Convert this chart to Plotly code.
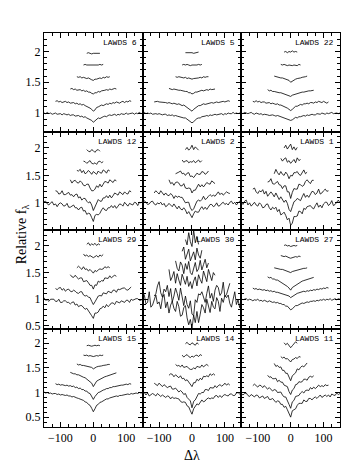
import plotly.graph_objects as go
from plotly.subplots import make_subplots

# wavelength offset grid (Angstrom), shared by all composite spectra
DLAM = [-150, -145, -140, -135, -130, -125, -120, -115, -110, -105, -100, -95, -90, -85, -80,
        -75, -70, -65, -60, -55, -50, -45, -40, -35, -30, -25, -20, -15, -10, -5, 0,
        5, 10, 15, 20, 25, 30, 35, 40, 45, 50, 55, 60, 65, 70, 75, 80, 85, 90, 95, 100,
        105, 110, 115, 120, 125, 130, 135, 140, 145, 150]

# vertical offsets of the stacked spectra (bottom -> top)
OFFSETS = [0.0, 0.2, 0.4, 0.6, 0.8, 1.0]

PANEL_NAMES = ["LAWDS 6", "LAWDS 5", "LAWDS 22",
               "LAWDS 12", "LAWDS 2", "LAWDS 1",
               "LAWDS 29", "LAWDS 30", "LAWDS 27",
               "LAWDS 15", "LAWDS 14", "LAWDS 11"]

ROW_YRANGE = [(0.7, 2.3), (0.505, 2.3), (0.45, 2.3), (0.3, 2.3)]

LAWDS_6 = [
    [1.00, 0.99, 1.01, 0.99, 1.00, 0.98, 0.99, 1.00, 0.98, 0.99, 0.99, 0.97, 0.99, 0.98, 0.97, 0.98, 0.96, 0.97, 0.97, 0.95, 0.96, 0.96, 0.94, 0.95, 0.93, 0.94, 0.92, 0.91, 0.90, 0.88, 0.85,
     0.87, 0.90, 0.92, 0.91, 0.93, 0.94, 0.95, 0.94, 0.96, 0.97, 0.96, 0.97, 0.98, 0.96, 0.98, 0.97, 0.99, 0.98, 0.98, 1.00, 0.98, 0.99, 0.99, 1.00, 0.98, 1.00, 0.99, 1.01, 0.99, 1.00],
    [0.99, 1.00, 0.98, 0.99, 0.97, 0.98, 0.99, 0.97, 0.98, 0.96, 0.97, 0.97, 0.95, 0.96, 0.94, 0.95, 0.93, 0.94, 0.92, 0.91, 0.90, 0.88, 0.86, 0.83,
     0.85, 0.89, 0.90, 0.91, 0.93, 0.92, 0.94, 0.95, 0.94, 0.96, 0.95, 0.97, 0.96, 0.98, 0.97, 0.96, 0.98, 0.99, 0.97, 0.99, 0.98, 1.00, 0.99],
    [0.99, 1.00, 0.98, 0.99, 0.97, 0.98, 0.98, 0.96, 0.97, 0.95, 0.96, 0.94, 0.94, 0.92, 0.91,
     0.93, 0.93, 0.95, 0.94, 0.96, 0.96, 0.97, 0.98, 0.97, 0.99, 0.98, 0.99, 1.00, 0.99],
    [0.99, 0.98, 0.99, 0.97, 0.98, 0.97, 0.96, 0.97, 0.95, 0.94, 0.93, 0.95, 0.95, 0.96, 0.97, 0.96, 0.98, 0.97, 0.99, 0.98, 0.99],
    [0.98, 0.99, 0.98, 0.98, 0.97, 0.98, 0.97, 0.97, 0.98, 0.98, 0.99, 0.98, 0.99],
    [0.97, 0.98, 0.97, 0.96, 0.97, 0.97, 0.98, 0.97, 0.97],
]

LAWDS_5 = [
    [1.00, 1.01, 0.99, 1.00, 0.99, 1.00, 0.98, 0.99, 0.99, 0.98, 0.99, 0.98, 0.97, 0.98, 0.98, 0.96, 0.97, 0.96, 0.97, 0.95, 0.96, 0.95, 0.94, 0.94, 0.93, 0.92, 0.92, 0.90, 0.89, 0.87, 0.84,
     0.86, 0.89, 0.91, 0.92, 0.92, 0.94, 0.94, 0.95, 0.96, 0.95, 0.97, 0.96, 0.97, 0.98, 0.97, 0.98, 0.98, 0.99, 0.97, 0.99, 0.98, 1.00, 0.99, 0.99, 1.01, 0.99, 1.00, 0.99, 1.00, 1.01],
    [0.98, 0.99, 0.99, 0.98, 0.98, 0.97, 0.98, 0.97, 0.96, 0.97, 0.96, 0.95, 0.96, 0.95, 0.94, 0.95, 0.93, 0.92, 0.93, 0.91, 0.89, 0.88, 0.86, 0.83,
     0.86, 0.88, 0.90, 0.92, 0.92, 0.93, 0.95, 0.94, 0.95, 0.96, 0.96, 0.97, 0.96, 0.97, 0.98, 0.97, 0.98, 0.98, 0.99, 0.98, 0.99, 1.00, 0.99],
    [1.00, 0.99, 0.98, 0.99, 0.98, 0.97, 0.97, 0.97, 0.96, 0.96, 0.95, 0.95, 0.93, 0.93, 0.91,
     0.92, 0.94, 0.94, 0.95, 0.95, 0.97, 0.96, 0.97, 0.98, 0.97, 0.99, 0.98, 0.99, 0.99],
    [0.99, 0.98, 0.99, 0.98, 0.98, 0.97, 0.98, 0.96, 0.97, 0.96, 0.95, 0.96, 0.96, 0.97, 0.97, 0.98, 0.97, 0.99, 0.98, 0.99, 0.99],
    [0.98, 0.99, 0.98, 0.99, 0.98, 0.97, 0.98, 0.98, 0.97, 0.98, 0.99, 0.98, 0.99],
    [0.98, 0.98, 0.99, 0.98, 0.98, 0.97, 0.98, 0.98, 0.99],
]

LAWDS_22 = [
    [1.00, 0.99, 1.01, 1.00, 0.99, 1.00, 1.01, 0.99, 0.98, 1.00, 0.99, 0.98, 0.99, 0.97, 0.98, 0.98, 0.97, 0.96, 0.97, 0.97, 0.96, 0.95, 0.96, 0.95, 0.94, 0.94, 0.93, 0.92, 0.91, 0.90, 0.88,
     0.89, 0.91, 0.93, 0.92, 0.94, 0.94, 0.95, 0.96, 0.95, 0.97, 0.96, 0.97, 0.98, 0.97, 0.97, 0.99, 0.98, 0.98, 1.00, 0.99, 0.98, 1.00, 0.99, 1.00, 1.01, 0.99, 1.00, 1.00, 0.99, 1.00],
    [0.99, 0.98, 1.00, 0.98, 0.99, 0.97, 0.98, 0.98, 0.96, 0.97, 0.97, 0.95, 0.96, 0.95, 0.94, 0.95, 0.93, 0.93, 0.92, 0.91, 0.90, 0.88, 0.86, 0.84,
     0.86, 0.88, 0.91, 0.91, 0.92, 0.94, 0.93, 0.95, 0.95, 0.96, 0.95, 0.97, 0.97, 0.96, 0.98, 0.97, 0.99, 0.98, 0.97, 0.99, 0.98, 0.96, 0.98],
    [0.98, 0.96, 0.97, 0.95, 0.95, 0.94, 0.94, 0.93, 0.93, 0.92, 0.92, 0.91, 0.90, 0.89, 0.87,
     0.89, 0.90, 0.91, 0.92, 0.92, 0.93, 0.94, 0.94, 0.95, 0.95, 0.96, 0.96, 0.97, 0.97],
    [1.00, 0.99, 0.99, 0.98, 0.97, 0.97, 0.96, 0.95, 0.94, 0.93, 0.90, 0.92, 0.94, 0.95, 0.96, 0.96, 0.97, 0.98, 0.98, 0.99, 1.00],
    [0.99, 0.98, 0.99, 0.98, 0.97, 0.98, 0.97, 0.97, 0.98, 0.98, 0.97, 0.99, 0.98],
    [0.99, 1.00, 0.98, 1.00, 0.99, 1.01, 0.99, 1.00, 0.99],
]

LAWDS_12 = [
    [1.02, 1.03, 0.98, 0.96, 1.00, 1.02, 0.96, 0.98, 0.93, 0.98, 1.00, 0.98, 0.94, 0.95, 0.99, 0.92, 0.92, 0.94, 0.96, 0.91, 0.91, 0.87, 0.91, 0.92, 0.85, 0.86, 0.79, 0.81, 0.80, 0.73, 0.66,
     0.77, 0.79, 0.78, 0.81, 0.87, 0.91, 0.87, 0.86, 0.91, 0.91, 0.95, 0.91, 0.95, 0.90, 0.94, 0.98, 0.97, 0.94, 1.01, 0.97, 0.94, 0.99, 0.97, 0.96, 1.01, 1.00, 0.95, 1.01, 1.00, 1.03],
    [1.02, 1.01, 0.96, 0.97, 1.02, 0.95, 0.95, 0.97, 0.99, 0.94, 0.95, 0.91, 0.95, 0.96, 0.89, 0.91, 0.85, 0.88, 0.88, 0.83, 0.80, 0.82, 0.76, 0.66,
     0.73, 0.81, 0.86, 0.83, 0.83, 0.89, 0.89, 0.93, 0.89, 0.94, 0.89, 0.93, 0.98, 0.96, 0.94, 1.00, 0.97, 0.95, 1.00, 0.97, 0.96, 1.02, 1.00],
    [1.02, 0.96, 1.00, 1.01, 0.97, 0.96, 1.00, 0.97, 0.92, 0.91, 0.94, 0.94, 0.87, 0.82, 0.82,
     0.85, 0.91, 0.88, 0.94, 0.89, 0.94, 0.99, 0.98, 0.96, 1.02, 0.99, 0.97, 1.02, 1.00],
    [0.99, 0.98, 1.01, 0.95, 0.99, 0.93, 0.95, 0.99, 0.96, 0.92, 0.97, 0.94, 0.92, 0.98, 0.95, 0.94, 1.00, 0.98, 0.94, 1.00, 0.98],
    [0.96, 0.95, 0.92, 0.94, 0.97, 0.92, 0.91, 0.93, 0.90, 0.95, 0.96, 0.93, 0.95],
    [0.97, 0.94, 0.93, 0.97, 0.95, 0.92, 0.96, 0.97, 0.94],
]

LAWDS_2 = [
    [0.99, 1.04, 1.01, 0.97, 0.98, 1.02, 1.03, 0.98, 0.96, 1.00, 0.98, 1.01, 0.96, 0.99, 0.93, 0.95, 0.99, 0.96, 0.93, 0.98, 0.93, 0.89, 0.94, 0.89, 0.87, 0.91, 0.87, 0.80, 0.84, 0.78, 0.73,
     0.80, 0.85, 0.83, 0.83, 0.89, 0.93, 0.88, 0.92, 0.88, 0.94, 0.97, 0.97, 0.93, 0.95, 1.00, 0.94, 0.95, 0.99, 1.01, 0.97, 0.99, 0.96, 1.01, 1.03, 0.98, 1.01, 0.96, 1.00, 1.03, 1.00],
    [0.98, 1.02, 0.99, 0.96, 1.02, 0.97, 0.94, 0.98, 0.94, 0.93, 0.97, 0.94, 0.88, 0.93, 0.90, 0.92, 0.90, 0.90, 0.84, 0.80, 0.81, 0.81, 0.71, 0.66,
     0.69, 0.78, 0.83, 0.85, 0.83, 0.86, 0.92, 0.86, 0.88, 0.92, 0.95, 0.92, 0.94, 0.92, 0.97, 1.00, 0.95, 0.98, 0.94, 0.98, 1.00, 0.98, 0.97],
    [1.02, 0.95, 0.97, 0.92, 0.97, 0.98, 0.96, 0.91, 0.91, 0.95, 0.87, 0.86, 0.87, 0.86, 0.78,
     0.83, 0.83, 0.90, 0.94, 0.89, 0.93, 0.89, 0.94, 0.97, 0.95, 0.94, 1.00, 0.98, 0.95],
    [0.93, 0.94, 0.96, 0.98, 0.93, 0.94, 0.90, 0.94, 0.95, 0.88, 0.89, 0.86, 0.91, 0.94, 0.92, 0.92, 0.97, 0.96, 0.92, 0.94, 0.98],
    [0.98, 0.94, 0.96, 0.97, 0.93, 0.95, 0.94, 0.97, 0.93, 0.96, 0.98, 0.94, 0.97],
    [0.97, 1.01, 0.96, 0.99, 1.05, 0.97, 1.02, 0.98, 0.96],
]

LAWDS_1 = [
    [1.01, 0.97, 1.03, 1.05, 0.96, 1.00, 0.94, 0.98, 1.01, 0.96, 0.94, 1.00, 0.97, 0.91, 0.92, 0.97, 0.98, 0.91, 0.87, 0.92, 0.89, 0.92, 0.84, 0.88, 0.78, 0.80, 0.83, 0.77, 0.69, 0.72, 0.59,
     0.63, 0.75, 0.75, 0.76, 0.85, 0.84, 0.80, 0.90, 0.88, 0.93, 0.94, 0.95, 0.91, 0.89, 0.95, 1.00, 0.92, 0.96, 0.91, 0.98, 1.01, 1.01, 0.95, 0.98, 1.04, 0.95, 0.97, 1.01, 1.05, 1.00],
    [1.05, 1.07, 1.00, 0.97, 1.02, 1.00, 1.04, 0.96, 1.01, 0.92, 0.96, 1.00, 0.96, 0.91, 0.98, 0.92, 0.86, 0.91, 0.86, 0.81, 0.85, 0.79, 0.68, 0.64,
     0.73, 0.82, 0.84, 0.88, 0.86, 0.84, 0.91, 0.97, 0.90, 0.94, 0.90, 0.97, 1.01, 1.00, 0.95, 0.98, 1.05, 0.96, 0.98, 1.02, 1.05, 1.01, 1.02],
    [0.98, 0.99, 1.04, 0.95, 0.94, 0.97, 0.99, 0.93, 0.92, 0.86, 0.91, 0.91, 0.80, 0.80, 0.68,
     0.79, 0.86, 0.85, 0.85, 0.94, 0.93, 0.90, 0.92, 0.99, 1.02, 0.98, 0.95, 1.01, 1.01],
    [0.93, 1.01, 0.95, 0.91, 0.97, 0.92, 0.90, 0.96, 0.92, 0.84, 0.90, 0.89, 0.95, 0.95, 0.97, 0.92, 0.90, 0.96, 1.00, 0.93, 0.96],
    [1.01, 0.96, 1.00, 1.02, 0.94, 0.97, 0.92, 0.95, 0.99, 0.93, 1.02, 0.97, 0.99],
    [1.00, 1.05, 0.98, 1.03, 1.07, 0.97, 1.02, 0.96, 1.01],
]

LAWDS_29 = [
    [1.03, 0.98, 0.99, 0.96, 1.00, 1.00, 1.00, 0.96, 0.96, 1.00, 0.94, 0.94, 0.97, 0.97, 0.94, 0.94, 0.91, 0.94, 0.95, 0.89, 0.91, 0.86, 0.88, 0.88, 0.84, 0.81, 0.83, 0.79, 0.73, 0.69, 0.64,
     0.74, 0.74, 0.76, 0.82, 0.83, 0.87, 0.84, 0.90, 0.86, 0.89, 0.93, 0.93, 0.90, 0.96, 0.94, 0.93, 0.97, 0.95, 0.94, 0.98, 0.98, 0.94, 1.00, 0.98, 1.00, 1.01, 1.01, 0.98, 0.98, 1.01],
    [1.00, 0.98, 1.01, 1.02, 0.97, 1.00, 0.95, 0.98, 0.99, 0.95, 0.94, 0.97, 0.95, 0.92, 0.91, 0.94, 0.94, 0.88, 0.86, 0.87, 0.84, 0.83, 0.76, 0.70,
     0.75, 0.80, 0.86, 0.87, 0.86, 0.92, 0.91, 0.90, 0.95, 0.93, 0.92, 0.97, 0.97, 0.93, 0.99, 0.98, 1.00, 1.01, 1.01, 0.98, 0.97, 1.01, 1.03],
    [1.06, 1.02, 1.01, 1.05, 1.01, 0.98, 1.00, 1.00, 0.93, 0.94, 0.95, 0.91, 0.86, 0.86, 0.79,
     0.87, 0.86, 0.94, 0.92, 0.95, 0.94, 1.00, 1.00, 0.99, 1.04, 1.00, 1.03, 1.05, 1.03],
    [0.99, 1.02, 0.99, 0.96, 1.01, 0.96, 0.97, 0.93, 0.96, 0.92, 0.89, 0.94, 0.92, 0.95, 0.97, 0.96, 0.97, 1.01, 0.99, 1.01, 0.99],
    [1.05, 1.01, 1.03, 1.00, 1.02, 0.99, 0.98, 1.00, 1.02, 0.99, 1.03, 1.01, 1.04],
    [1.03, 1.06, 1.01, 1.04, 1.02, 1.05, 1.01, 1.04, 1.02],
]

LAWDS_30 = [
    [1.12, 1.08, 0.91, 0.94, 1.14, 0.85, 0.89, 1.00, 1.08, 0.91, 0.95, 0.82, 1.02, 1.09, 0.84, 0.95, 0.74, 0.89, 0.96, 0.83, 0.77, 0.96, 0.86, 0.68, 0.70, 0.84, 0.88, 0.65, 0.52, 0.62, 0.45,
     0.70, 0.56, 0.77, 0.56, 0.72, 0.90, 0.84, 0.74, 1.00, 0.85, 0.75, 0.96, 0.85, 0.82, 1.03, 0.96, 0.77, 1.02, 0.94, 1.07, 1.03, 1.08, 0.92, 0.85, 1.01, 1.14, 0.90, 0.99, 0.84, 1.04],
    [0.86, 0.90, 1.05, 1.13, 0.92, 0.84, 0.99, 0.94, 1.06, 0.85, 1.00, 0.75, 0.86, 1.01, 0.91, 0.78, 1.01, 0.82, 0.68, 0.86, 0.70, 0.63, 0.77, 0.52,
     0.49, 0.79, 0.74, 0.90, 0.88, 0.94, 0.81, 0.74, 0.91, 1.05, 0.82, 0.91, 0.76, 0.97, 1.06, 1.02, 0.87, 0.92, 1.12, 0.85, 0.89, 1.02, 1.10],
    [1.16, 0.95, 1.02, 1.12, 0.90, 1.08, 0.96, 0.86, 1.07, 0.99, 0.88, 1.03, 0.84, 0.93, 0.80,
     0.94, 1.02, 0.85, 1.06, 0.97, 0.90, 1.13, 1.00, 0.93, 1.16, 1.04, 0.95, 1.10, 1.05],
    [1.12, 0.98, 0.93, 1.10, 1.04, 0.88, 1.07, 0.96, 1.11, 0.90, 0.86, 1.00, 1.09, 0.92, 0.97, 1.13, 0.95, 1.05, 1.15, 0.99, 1.08],
    [1.10, 1.18, 0.95, 1.05, 1.14, 0.92, 1.00, 1.09, 0.94, 1.16, 1.03, 0.97, 1.12],
    [1.12, 1.02, 1.25, 1.08, 0.99, 1.30, 1.06, 1.18, 1.03],
]

LAWDS_27 = [
    [1.01, 0.99, 1.00, 1.01, 0.98, 1.00, 0.99, 0.97, 0.99, 0.98, 1.00, 0.97, 0.98, 0.96, 0.98, 0.97, 0.95, 0.97, 0.96, 0.94, 0.95, 0.93, 0.94, 0.92, 0.92, 0.90, 0.90, 0.87, 0.87, 0.83, 0.80,
     0.82, 0.85, 0.88, 0.88, 0.90, 0.91, 0.93, 0.92, 0.94, 0.95, 0.94, 0.96, 0.96, 0.97, 0.96, 0.98, 0.97, 0.99, 0.98, 1.00, 0.98, 1.00, 0.99, 1.01, 0.98, 1.00, 1.01, 0.99, 1.01, 1.00],
    [1.01, 0.99, 1.00, 0.98, 0.99, 0.98, 0.97, 0.98, 0.96, 0.97, 0.95, 0.96, 0.94, 0.95, 0.93, 0.93, 0.92, 0.91, 0.90, 0.90, 0.88, 0.87, 0.86, 0.83,
     0.85, 0.88, 0.89, 0.91, 0.92, 0.93, 0.93, 0.95, 0.94, 0.96, 0.95, 0.97, 0.96, 0.98, 0.97, 0.99, 0.98, 1.00, 0.99, 1.01, 1.00, 1.02, 1.01],
    [1.02, 1.00, 1.01, 0.98, 0.98, 0.96, 0.96, 0.94, 0.93, 0.91, 0.89, 0.87, 0.84, 0.81, 0.77,
     0.82, 0.84, 0.87, 0.89, 0.91, 0.92, 0.94, 0.95, 0.96, 0.97, 0.98, 0.99, 1.00, 1.01],
    [0.99, 0.98, 0.98, 0.97, 0.96, 0.96, 0.95, 0.94, 0.93, 0.92, 0.90, 0.92, 0.93, 0.94, 0.95, 0.96, 0.96, 0.97, 0.98, 0.98, 0.99],
    [1.02, 1.01, 1.00, 1.01, 0.99, 0.98, 0.97, 0.98, 0.99, 1.00, 0.99, 1.01, 1.00],
    [1.01, 1.02, 1.00, 1.01, 0.99, 1.00, 1.01, 1.00, 1.01],
]

LAWDS_15 = [
    [1.01, 0.99, 1.00, 0.98, 0.99, 0.97, 0.98, 0.98, 0.96, 0.97, 0.95, 0.96, 0.95, 0.94, 0.95, 0.93, 0.93, 0.91, 0.92, 0.90, 0.89, 0.88, 0.87, 0.85, 0.84, 0.81, 0.80, 0.76, 0.74, 0.68, 0.61,
     0.67, 0.74, 0.76, 0.80, 0.81, 0.84, 0.85, 0.87, 0.87, 0.89, 0.90, 0.91, 0.91, 0.93, 0.92, 0.94, 0.94, 0.95, 0.95, 0.96, 0.97, 0.96, 0.98, 0.97, 0.98, 0.99, 0.98, 1.00, 0.99, 1.00],
    [0.98, 0.96, 0.97, 0.95, 0.96, 0.95, 0.94, 0.95, 0.93, 0.94, 0.92, 0.93, 0.90, 0.91, 0.88, 0.89, 0.86, 0.86, 0.83, 0.83, 0.79, 0.78, 0.72, 0.66,
     0.72, 0.77, 0.80, 0.81, 0.84, 0.85, 0.86, 0.88, 0.88, 0.90, 0.90, 0.92, 0.92, 0.93, 0.94, 0.94, 0.95, 0.95, 0.96, 0.97, 0.96, 0.98, 0.97],
    [1.01, 0.99, 0.98, 0.98, 0.96, 0.96, 0.94, 0.93, 0.91, 0.90, 0.87, 0.86, 0.82, 0.79, 0.72,
     0.78, 0.83, 0.85, 0.87, 0.89, 0.91, 0.92, 0.93, 0.94, 0.96, 0.96, 0.98, 0.98, 1.00],
    [0.98, 0.96, 0.97, 0.95, 0.95, 0.94, 0.94, 0.93, 0.92, 0.91, 0.88, 0.91, 0.92, 0.93, 0.93, 0.94, 0.95, 0.95, 0.96, 0.97, 0.97],
    [0.96, 0.95, 0.96, 0.94, 0.95, 0.94, 0.93, 0.94, 0.95, 0.94, 0.96, 0.95, 0.96],
    [0.95, 0.96, 0.95, 0.94, 0.95, 0.96, 0.95, 0.96, 0.95],
]

LAWDS_14 = [
    [0.98, 1.00, 0.95, 0.99, 0.93, 0.95, 0.98, 0.96, 0.93, 0.98, 0.94, 0.92, 0.95, 0.92, 0.90, 0.93, 0.92, 0.87, 0.91, 0.88, 0.89, 0.88, 0.87, 0.82, 0.80, 0.81, 0.80, 0.73, 0.71, 0.63, 0.56,
     0.67, 0.73, 0.77, 0.75, 0.79, 0.85, 0.81, 0.83, 0.87, 0.89, 0.87, 0.89, 0.88, 0.93, 0.94, 0.90, 0.94, 0.90, 0.94, 0.96, 0.94, 0.93, 0.97, 0.97, 0.94, 0.94, 0.99, 1.00, 0.97, 0.96],
    [0.99, 0.96, 0.94, 0.99, 0.96, 0.92, 0.96, 0.93, 0.90, 0.92, 0.93, 0.87, 0.87, 0.89, 0.85, 0.81, 0.84, 0.81, 0.76, 0.78, 0.70, 0.67, 0.63, 0.49,
     0.62, 0.65, 0.73, 0.78, 0.77, 0.80, 0.80, 0.86, 0.86, 0.84, 0.90, 0.89, 0.89, 0.94, 0.90, 0.94, 0.96, 0.93, 0.95, 0.99, 0.95, 0.98, 0.95],
    [0.95, 0.98, 0.97, 0.92, 0.96, 0.93, 0.90, 0.94, 0.88, 0.89, 0.84, 0.86, 0.81, 0.76, 0.72,
     0.80, 0.80, 0.87, 0.84, 0.89, 0.86, 0.93, 0.92, 0.94, 0.92, 0.98, 0.95, 0.98, 0.95],
    [0.97, 0.94, 0.95, 0.92, 0.96, 0.91, 0.92, 0.93, 0.89, 0.87, 0.87, 0.90, 0.88, 0.93, 0.92, 0.91, 0.96, 0.92, 0.95, 0.97, 0.94],
    [0.96, 0.92, 0.95, 0.97, 0.93, 0.91, 0.94, 0.92, 0.95, 0.96, 0.93, 0.97, 0.95],
    [0.99, 1.02, 0.98, 0.97, 1.01, 0.99, 0.96, 1.01, 0.98],
]

LAWDS_11 = [
    [0.98, 0.95, 0.98, 0.99, 0.94, 0.92, 0.96, 0.94, 0.91, 0.95, 0.94, 0.89, 0.92, 0.93, 0.88, 0.90, 0.92, 0.86, 0.86, 0.88, 0.84, 0.80, 0.83, 0.82, 0.76, 0.76, 0.70, 0.72, 0.65, 0.59, 0.50,
     0.63, 0.65, 0.67, 0.74, 0.78, 0.78, 0.78, 0.85, 0.82, 0.82, 0.88, 0.88, 0.85, 0.89, 0.91, 0.88, 0.92, 0.95, 0.90, 0.93, 0.95, 0.92, 0.95, 0.91, 0.97, 0.95, 0.94, 0.99, 0.96, 0.98],
    [0.94, 0.97, 0.94, 0.91, 0.95, 0.94, 0.90, 0.94, 0.90, 0.87, 0.90, 0.86, 0.83, 0.86, 0.85, 0.80, 0.80, 0.81, 0.75, 0.71, 0.71, 0.65, 0.56, 0.48,
     0.61, 0.64, 0.72, 0.73, 0.74, 0.79, 0.82, 0.79, 0.84, 0.85, 0.84, 0.90, 0.87, 0.91, 0.88, 0.91, 0.95, 0.92, 0.94, 0.92, 0.96, 0.94, 0.95],
    [0.95, 0.91, 0.92, 0.88, 0.88, 0.89, 0.82, 0.85, 0.81, 0.81, 0.75, 0.74, 0.72, 0.62, 0.56,
     0.65, 0.68, 0.76, 0.77, 0.82, 0.81, 0.82, 0.87, 0.87, 0.85, 0.91, 0.93, 0.91, 0.94],
    [0.99, 0.93, 0.95, 0.91, 0.92, 0.85, 0.85, 0.79, 0.79, 0.71, 0.64, 0.74, 0.78, 0.80, 0.88, 0.86, 0.91, 0.94, 0.92, 0.96, 1.00],
    [0.93, 0.90, 0.92, 0.88, 0.89, 0.86, 0.82, 0.87, 0.88, 0.91, 0.89, 0.93, 0.92],
    [1.01, 0.97, 1.00, 0.94, 0.91, 0.95, 0.98, 1.03, 1.00],
]

PANELS = [LAWDS_6, LAWDS_5, LAWDS_22,
          LAWDS_12, LAWDS_2, LAWDS_1,
          LAWDS_29, LAWDS_30, LAWDS_27,
          LAWDS_15, LAWDS_14, LAWDS_11]

SERIF = "Liberation Serif"


def grid_for(vals):
    start = (len(DLAM) - len(vals)) // 2
    return DLAM[start:start + len(vals)]


fig = make_subplots(rows=4, cols=3, horizontal_spacing=0, vertical_spacing=0)

for i, spectra in enumerate(PANELS):
    r, c = i // 3 + 1, i % 3 + 1
    for off, vals in zip(OFFSETS, spectra):
        fig.add_trace(go.Scatter(
            x=grid_for(vals),
            y=[v + off for v in vals],
            mode="lines",
            line=dict(color="black", width=0.8),
            showlegend=False,
            hoverinfo="skip",
        ), row=r, col=c)

    ax = "" if i == 0 else str(i + 1)
    fig.add_annotation(
        text=PANEL_NAMES[i], xref="x%s domain" % ax, yref="y%s domain" % ax,
        x=0.96, y=0.965, xanchor="right", yanchor="top", showarrow=False,
        font=dict(family="Liberation Mono", size=8, color="black"),
    )

for r in range(1, 5):
    for c in range(1, 4):
        fig.update_xaxes(
            range=[-150, 150], tick0=0, dtick=100,
            ticks="inside", ticklen=5, tickwidth=0.8, tickcolor="black",
            minor=dict(ticks="inside", dtick=25, tick0=0, ticklen=3, tickcolor="black", tickwidth=0.8),
            showline=True, linecolor="black", linewidth=1, mirror="allticks",
            showgrid=False, zeroline=False,
            showticklabels=(r == 4),
            tickfont=dict(family=SERIF, size=12, color="black"),
            row=r, col=c,
        )
        fig.update_yaxes(
            range=list(ROW_YRANGE[r - 1]), tick0=0, dtick=0.5,
            ticks="inside", ticklen=5, tickwidth=0.8, tickcolor="black",
            minor=dict(ticks="inside", dtick=0.1, tick0=0, ticklen=3, tickcolor="black", tickwidth=0.8),
            showline=True, linecolor="black", linewidth=1, mirror="allticks",
            showgrid=False, zeroline=False,
            showticklabels=(c == 1),
            tickfont=dict(family=SERIF, size=12, color="black"),
            row=r, col=c,
        )

fig.add_annotation(
    text="Relative f<sub>λ</sub>", xref="paper", yref="paper",
    x=-0.105, y=0.49, textangle=-90, showarrow=False,
    font=dict(family=SERIF, size=14, color="black"),
)
fig.add_annotation(
    text="Δλ", xref="paper", yref="paper",
    x=0.5, y=-0.097, showarrow=False,
    font=dict(family=SERIF, size=14, color="black"),
)

fig.update_layout(
    width=350, height=467,
    margin=dict(l=36, r=18, t=25, b=48),
    paper_bgcolor="white", plot_bgcolor="white",
)

fig.write_html("out.html")
